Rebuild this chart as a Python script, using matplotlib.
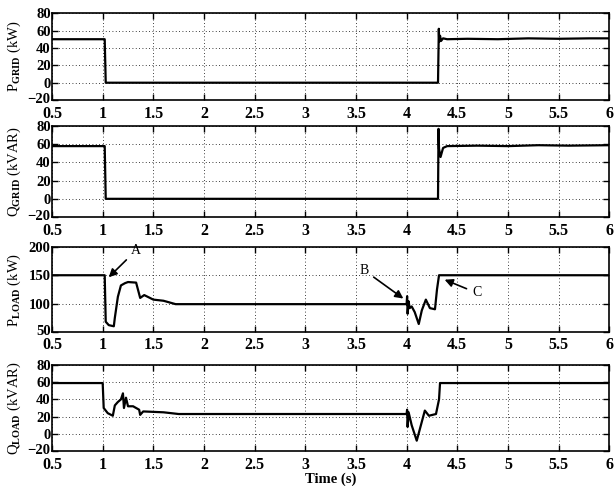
import matplotlib
matplotlib.use('Agg')
import matplotlib.pyplot as plt
import matplotlib.transforms as mtransforms

plt.rcParams['font.family'] = 'Liberation Serif'
plt.rcParams['mathtext.fontset'] = 'custom'
plt.rcParams['mathtext.rm'] = 'Liberation Serif'
plt.rcParams['mathtext.bf'] = 'Liberation Serif:bold'

# time points and values
t_pgrid = [0.5, 1.02, 1.03, 4.31, 4.318, 4.322, 4.33, 4.34, 4.36, 4.4, 4.6, 4.9, 5.2, 5.5, 5.8, 6.0]
p_grid = [50, 50, 0, 0, 62, 47, 54, 48, 51, 50, 50.5, 50, 51, 50.5, 51, 51]

t_qgrid = [0.5, 1.02, 1.03, 4.31, 4.315, 4.32, 4.335, 4.36, 4.4, 4.7, 5.0, 5.3, 5.6, 6.0]
q_grid = [58, 58, 0, 0, 77, 55, 46, 56, 58, 58.5, 58, 59, 58.5, 59]

t_pload = [0.5, 1.02, 1.03, 1.06, 1.11, 1.12, 1.15, 1.18, 1.22, 1.25, 1.33, 1.37, 1.41,
           1.5, 1.6, 1.72, 2.5, 3.5, 4.0, 4.005, 4.01, 4.02, 4.03, 4.05, 4.08, 4.12,
           4.15, 4.19, 4.23, 4.28, 4.3, 4.32, 6.0]
p_load = [150, 150, 68, 62, 60, 75, 112, 132, 136, 138, 137, 110, 115,
          107, 105, 99, 99, 99, 99, 113, 82, 104, 92, 95, 85, 64,
          88, 107, 92, 90, 125, 150, 150]

t_qload = [0.5, 1.0, 1.01, 1.05, 1.1, 1.12, 1.15, 1.18, 1.2, 1.21, 1.23, 1.25, 1.3,
           1.36, 1.37, 1.4, 1.6, 1.75, 3.0, 4.0, 4.005, 4.01, 4.02, 4.05, 4.1,
           4.18, 4.22, 4.29, 4.32, 4.33, 6.0]
q_load = [59, 59, 30, 24, 21, 33, 37, 40, 47, 30, 42, 32, 32,
          28, 22, 26, 25, 23, 23, 23, 28, 8, 25, 10, -8,
          27, 21, 23, 40, 59, 59]

xticks = [0.5, 1, 1.5, 2, 2.5, 3, 3.5, 4, 4.5, 5, 5.5, 6]
xtick_labels = ['0.5', '1', '1.5', '2', '2.5', '3', '3.5', '4', '4.5', '5', '5.5', '6']

panels = [
    (t_pgrid, p_grid, r'P$_{\mathbf{GRID}}$ (kW)', (-20, 80), [-20, 0, 20, 40, 60, 80]),
    (t_qgrid, q_grid, r'Q$_{\mathbf{GRID}}$ (kVAR)', (-20, 80), [-20, 0, 20, 40, 60, 80]),
    (t_pload, p_load, r'P$_{\mathbf{LOAD}}$ (kW)', (50, 200), [50, 100, 150, 200]),
    (t_qload, q_load, r'Q$_{\mathbf{LOAD}}$ (kVAR)', (-20, 80), [-20, 0, 20, 40, 60, 80]),
]
boxes = [(0.0846, 0.794, 0.906, 0.179),
         (0.0846, 0.5535, 0.906, 0.187),
         (0.0846, 0.317, 0.906, 0.175),
         (0.0846, 0.072, 0.906, 0.177)]

fig = plt.figure(figsize=(6.15, 4.86), dpi=100)
axes = []
for (t, v, label, ylim, yticks), box in zip(panels, boxes):
    ax = fig.add_axes(box)
    ax.plot(t, v, color='black', lw=1.6)
    ax.set_xlim(0.5, 6)
    ax.set_ylim(*ylim)
    ax.set_xticks(xticks)
    ax.set_xticklabels(xtick_labels)
    ax.set_yticks(yticks)
    ax.grid(True, linestyle=(0, (1, 3)), color='black', lw=0.6)
    ax.tick_params(direction='in', top=True, right=True, length=4, width=1)
    ax.tick_params(axis='x', pad=4, labelsize=11.5)
    ax.tick_params(axis='y', pad=1, labelsize=10.5)
    for lbl in ax.get_xticklabels() + ax.get_yticklabels():
        lbl.set_fontweight('bold')
    # nudge the lowest y label up a little so it clears the first x label
    low = ax.get_yticklabels()[0]
    low.set_transform(low.get_transform() +
                      mtransforms.ScaledTranslation(0, 1.5 / 72, fig.dpi_scale_trans))
    for s in ax.spines.values():
        s.set_linewidth(1.2)
    ax.set_ylabel(label, fontsize=10.5, labelpad=0)
    ax.yaxis.set_label_coords(-0.052, 0.5)
    axes.append(ax)

ax3 = axes[2]
arrow = dict(arrowstyle='-|>', color='black', lw=1.2, mutation_scale=12)
ax3.annotate('A', xy=(1.04, 143), xytext=(1.33, 194), ha='center', va='center',
             fontsize=10, arrowprops=arrow)
ax3.annotate('B', xy=(3.99, 106), xytext=(3.58, 159), ha='center', va='center',
             fontsize=10, arrowprops=arrow)
ax3.annotate('C', xy=(4.35, 144), xytext=(4.69, 119), ha='center', va='center',
             fontsize=10, arrowprops=arrow)

axes[3].set_xlabel('Time (s)', fontsize=10.5, fontweight='bold', labelpad=0)

fig.savefig('out.png', dpi=100)
